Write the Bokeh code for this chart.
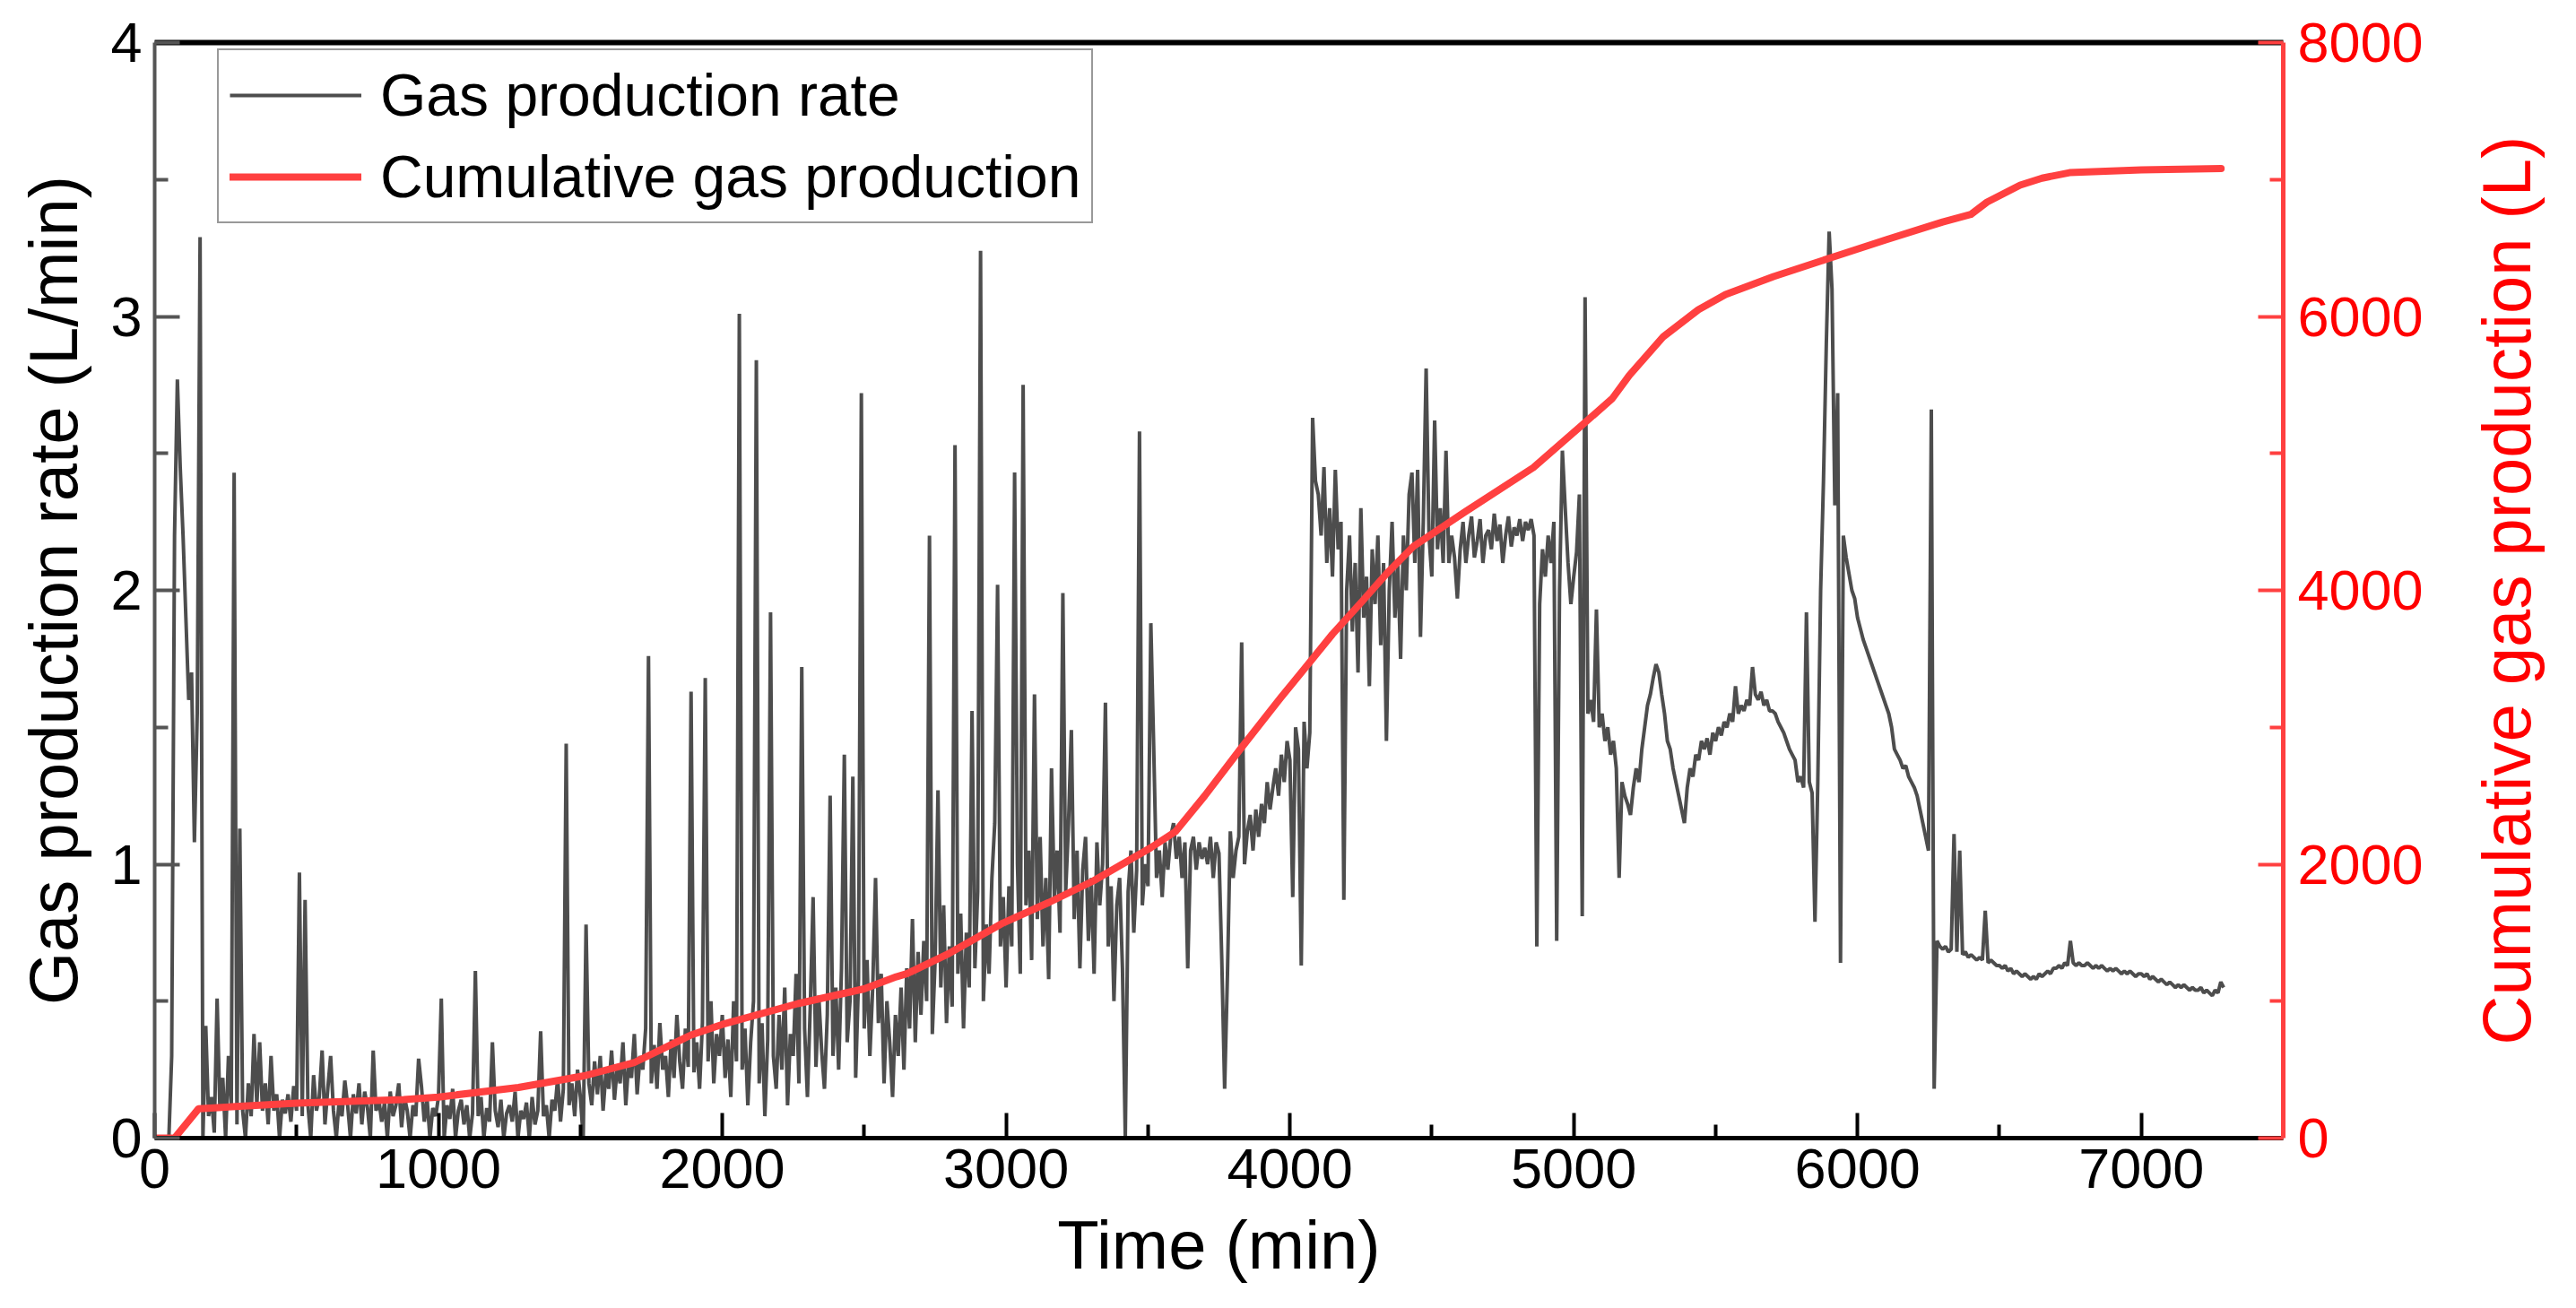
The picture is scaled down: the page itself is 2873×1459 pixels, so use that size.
import math
from bokeh.plotting import figure
from bokeh.models import Range1d, LinearAxis, FixedTicker, Legend, LegendItem, Label
from bokeh.embed import file_html
from bokeh.resources import INLINE

# ---------------- data ----------------
# gas production rate sampled every 10 min (L/min)
RATE_STEP_MIN = 10
RATE = [
    0, 0, 0, 0, 0, 0, 0.3, 2.2, 2.77, 2.45,
    2.2, 1.9, 1.6, 1.7, 1.08, 1.55, 3.29, 0.0, 0.41, 0.08,
    0.15, 0.02, 0.51, 0.1, 0.22, 0.0, 0.3, 0.12, 2.43, 0.05,
    1.13, 0.1, 0.0, 0.2, 0.08, 0.38, 0.12, 0.35, 0.1, 0.2,
    0.05, 0.3, 0.1, 0.16, 0.0, 0.14, 0.09, 0.16, 0.06, 0.19,
    0.1, 0.97, 0.08, 0.87, 0.12, 0.0, 0.23, 0.1, 0.15, 0.32,
    0.05, 0.18, 0.3, 0.1, 0.0, 0.14, 0.08, 0.21, 0.12, 0.0,
    0.16, 0.09, 0.2, 0.05, 0.17, 0.11, 0.0, 0.32, 0.1, 0.14,
    0.06, 0.13, 0.0, 0.17, 0.08, 0.12, 0.2, 0.04, 0.15, 0.1,
    0.0, 0.12, 0.08, 0.29, 0.19, 0.06, 0.14, 0.0, 0.11, 0.08,
    0.15, 0.51, 0.0, 0.12, 0.07, 0.18, 0.0, 0.1, 0.14, 0.05,
    0.12, 0.0, 0.09, 0.61, 0.08, 0.15, 0.0, 0.11, 0.06, 0.35,
    0.1, 0.04, 0.14, 0.0, 0.09, 0.12, 0.06, 0.17, 0.0, 0.1,
    0.07, 0.13, 0.0, 0.15, 0.05, 0.1, 0.39, 0.08, 0.12, 0.0,
    0.14, 0.1, 0.22, 0.06, 0.18, 1.44, 0.12, 0.2, 0.08, 0.25,
    0.15, 0.0, 0.78, 0.2, 0.12, 0.28, 0.16, 0.3, 0.1, 0.24,
    0.18, 0.32, 0.14, 0.26, 0.2, 0.35, 0.12, 0.28, 0.22, 0.38,
    0.16, 0.3, 0.25, 0.4, 1.76, 0.2, 0.34, 0.18, 0.42, 0.25,
    0.3, 0.15, 0.36, 0.22, 0.45, 0.28, 0.18, 0.4, 0.26, 1.63,
    0.24, 0.35, 0.18, 0.42, 1.68, 0.28, 0.5, 0.2, 0.38, 0.3,
    0.45, 0.22, 0.36, 0.15, 0.5, 0.28, 3.01, 0.25, 0.4, 0.12,
    0.35, 0.5, 2.84, 0.2, 0.42, 0.08, 0.36, 1.92, 0.3, 0.18,
    0.45, 0.25, 0.55, 0.12, 0.38, 0.3, 0.6, 0.2, 1.72, 0.4,
    0.15, 0.48, 0.88, 0.26, 0.52, 0.32, 0.18, 0.45, 1.25, 0.3,
    0.55, 0.25, 0.62, 1.4, 0.35, 0.5, 1.32, 0.22, 0.58, 2.72,
    0.4, 0.65, 0.3, 0.55, 0.95, 0.42, 0.6, 0.2, 0.5, 0.35,
    0.15, 0.45, 0.3, 0.55, 0.25, 0.62, 0.4, 0.8, 0.35, 0.68,
    0.45, 0.72, 0.5, 2.2, 0.38, 0.65, 1.27, 0.55, 0.85, 0.42,
    0.7, 0.48, 2.53, 0.6, 0.82, 0.4, 0.75, 0.55, 1.56, 0.62,
    0.9, 3.24, 0.5, 0.78, 0.6, 0.95, 1.15, 2.02, 0.7, 0.88,
    0.55, 0.92, 0.7, 2.43, 1.0, 0.6, 2.75, 0.85, 1.05, 0.65,
    1.62, 0.8, 1.1, 0.7, 0.95, 0.58, 1.35, 0.88, 1.05, 0.75,
    1.99, 0.9, 1.15, 1.49, 0.8, 1.05, 0.62, 0.98, 1.1, 0.72,
    0.95, 0.6, 1.08, 0.85, 1.0, 1.59, 0.7, 0.92, 0.5, 0.85,
    0.95, 0.62, 0.0, 0.9, 1.05, 0.75, 0.98, 2.58, 0.85, 1.0,
    0.92, 1.88, 1.43, 0.95, 1.05, 0.88, 1.08, 0.98, 1.1, 1.15,
    1.02, 1.1, 0.95, 1.08, 0.62, 1.05, 1.1, 0.98, 1.08, 1.02,
    1.06, 1.0, 1.1, 0.95, 1.08, 1.04, 0.65, 0.18, 0.6, 1.12,
    0.95, 1.05, 1.1, 1.81, 1.0, 1.12, 1.18, 1.05, 1.2, 1.1,
    1.22, 1.15, 1.3, 1.2, 1.28, 1.35, 1.25, 1.4, 1.3, 1.45,
    1.38, 0.88, 1.5, 1.42, 0.63, 1.52, 1.35, 1.48, 2.63, 2.4,
    2.35, 2.2, 2.45, 2.1, 2.3, 2.05, 2.44, 2.15, 2.25, 0.87,
    2.0, 2.2, 1.85, 2.1, 1.7, 2.3, 1.9, 2.05, 1.65, 2.15,
    1.95, 2.2, 1.8, 2.1, 1.45, 2.0, 2.25, 1.9, 2.1, 1.75,
    2.2, 2.0, 2.35, 2.43, 2.1, 2.44, 1.83, 2.25, 2.81, 2.2,
    2.05, 2.62, 2.15, 2.3, 2.1, 2.51, 2.1, 2.2, 2.12, 1.97,
    2.15, 2.25, 2.1, 2.2, 2.27, 2.12, 2.18, 2.26, 2.1, 2.2,
    2.22, 2.15, 2.28, 2.18, 2.24, 2.1, 2.2, 2.27, 2.16, 2.23,
    2.2, 2.26, 2.18, 2.25, 2.22, 2.26, 2.2, 0.7, 1.95, 2.15,
    2.05, 2.2, 2.1, 2.25, 0.72, 2.0, 2.51, 2.3, 2.1, 1.95,
    2.05, 2.14, 2.35, 0.81, 3.07, 1.55, 1.6, 1.52, 1.93, 1.5,
    1.55, 1.45, 1.5, 1.4, 1.45, 1.35, 0.95, 1.3, 1.25, 1.22,
    1.18, 1.28, 1.35, 1.3, 1.42, 1.5, 1.58, 1.62, 1.68, 1.73,
    1.7, 1.62, 1.55, 1.45, 1.42, 1.35, 1.3, 1.25, 1.2, 1.15,
    1.28, 1.35, 1.32, 1.4, 1.38, 1.45, 1.42, 1.46, 1.4, 1.48,
    1.45, 1.5, 1.47, 1.52, 1.5, 1.55, 1.52, 1.65, 1.55, 1.58,
    1.56, 1.6, 1.58, 1.72, 1.62, 1.6, 1.63, 1.58, 1.6, 1.56,
    1.56, 1.55, 1.52, 1.5, 1.48, 1.45, 1.42, 1.4, 1.38, 1.3,
    1.32, 1.28, 1.92, 1.3, 1.26, 0.79, 1.3, 2.0, 2.4, 2.9,
    3.31, 3.1, 2.31, 2.72, 0.64, 2.2, 2.12, 2.06, 2.0, 1.97,
    1.9, 1.86, 1.82, 1.79, 1.76, 1.73, 1.7, 1.67, 1.64, 1.61,
    1.58, 1.55, 1.5, 1.42, 1.4, 1.38, 1.35, 1.36, 1.32, 1.3,
    1.28, 1.25, 1.2, 1.15, 1.1, 1.05, 2.66, 0.18, 0.72, 0.70,
    0.69, 0.7, 0.68, 0.69, 1.11, 0.68, 1.05, 0.67, 0.68, 0.66,
    0.67, 0.66, 0.65, 0.66, 0.65, 0.83, 0.64, 0.65, 0.64, 0.63,
    0.63, 0.62, 0.63, 0.61, 0.62, 0.6, 0.61, 0.6, 0.59, 0.6,
    0.59, 0.58, 0.59, 0.58, 0.6, 0.59, 0.6, 0.61, 0.6, 0.62,
    0.62, 0.63, 0.62, 0.64, 0.63, 0.72, 0.64, 0.63, 0.64, 0.63,
    0.63, 0.64, 0.63, 0.62, 0.63, 0.62, 0.63, 0.62, 0.61, 0.62,
    0.61, 0.62, 0.61, 0.6, 0.61, 0.6, 0.61, 0.6, 0.59, 0.6,
    0.6, 0.59, 0.6, 0.58, 0.59, 0.58, 0.57, 0.58, 0.57, 0.56,
    0.57, 0.56, 0.55, 0.56, 0.55, 0.56, 0.55, 0.54, 0.55, 0.54,
    0.54, 0.55, 0.53, 0.54, 0.53, 0.52, 0.54, 0.53, 0.57, 0.55,
]
RATE_TIME = [i * RATE_STEP_MIN for i in range(len(RATE))]

# cumulative gas production (L)
CUM_TIME = [0, 70, 155, 500, 878, 1000, 1282, 1514, 1688, 1890, 2000, 2266,
            2500, 2613, 2650, 2800, 2989, 3150, 3308, 3510, 3597, 3700, 3828,
            3967, 4060, 4150, 4255, 4340, 4435, 4615, 4858, 5039, 5136, 5196,
            5316, 5439, 5535, 5704, 5906, 6100, 6300, 6399, 6456, 6573, 6650,
            6747, 7000, 7281]
CUM_L = [0, 0, 215, 255, 282, 300, 370, 455, 550, 753, 830, 982,
         1090, 1178, 1200, 1350, 1571, 1720, 1879, 2121, 2239, 2500, 2848,
         3214, 3450, 3680, 3921, 4120, 4321, 4570, 4897, 5224, 5401, 5571,
         5853, 6049, 6160, 6291, 6429, 6560, 6690, 6745, 6835, 6959, 7010,
         7050, 7070, 7080]

X_TICKS = [0, 1000, 2000, 3000, 4000, 5000, 6000, 7000]
X_MINOR = [500, 1500, 2500, 3500, 4500, 5500, 6500]
Y_TICKS = [0, 1, 2, 3, 4]
Y_MINOR = [0.5, 1.5, 2.5, 3.5]
Y2_TICKS = [0, 2000, 4000, 6000, 8000]
Y2_MINOR = [1000, 3000, 5000, 7000]

LABEL_LEGEND_RATE = "Gas production rate"
LABEL_LEGEND_CUM = "Cumulative gas production"
LABEL_X = "Time (min)"
LABEL_Y = "Gas production rate (L/min)"
LABEL_Y2 = "Cumulative gas production (L)"

# ---------------- styling ----------------
FONT = "Liberation Sans"
GRAY = "#4d4d4d"
RED_LINE = "#ff4040"
RED_TEXT = "#ff0000"

FIG_W, FIG_H = 2857, 1440
BORDER_L, BORDER_R, BORDER_T, BORDER_B = 172, 311, 47, 171
FRAME_W = FIG_W - BORDER_L - BORDER_R
FRAME_H = FIG_H - BORDER_T - BORDER_B

p = figure(width=FIG_W, height=FIG_H,
           x_range=Range1d(0, 7500), y_range=Range1d(0, 4),
           output_backend="svg", toolbar_location=None,
           min_border_left=BORDER_L, min_border_right=BORDER_R,
           min_border_top=BORDER_T, min_border_bottom=BORDER_B)
p.extra_y_ranges = {"cum": Range1d(0, 8000)}
p.xgrid.visible = False
p.ygrid.visible = False
p.outline_line_color = None
p.background_fill_color = "white"
p.border_fill_color = "white"

gray = p.line(RATE_TIME, RATE, line_color=GRAY, line_width=4)
red = p.line(CUM_TIME, CUM_L, line_color=RED_LINE, line_width=8,
             y_range_name="cum", line_cap="round", line_join="round")


def style_axis(ax, line_color, line_width, tick_color, label_color, standoff, label_standoff):
    ax.axis_line_color = line_color
    ax.axis_line_width = line_width
    ax.major_tick_line_color = tick_color
    ax.minor_tick_line_color = tick_color
    ax.major_tick_line_width = 4
    ax.minor_tick_line_width = 4
    ax.major_tick_in = 28
    ax.major_tick_out = 0
    ax.minor_tick_in = 15
    ax.minor_tick_out = 0
    ax.major_label_text_font = FONT
    ax.major_label_text_font_size = "63px"
    ax.major_label_text_color = label_color
    ax.major_label_standoff = standoff
    ax.axis_label_text_font = FONT
    ax.axis_label_text_font_size = "76px"
    ax.axis_label_text_font_style = "normal"
    ax.axis_label_text_color = label_color
    ax.axis_label_standoff = label_standoff


xax = p.xaxis[0]
xax.ticker = FixedTicker(ticks=X_TICKS, minor_ticks=X_MINOR)
xax.axis_label = LABEL_X
style_axis(xax, "black", 5, "black", "black", 12, 18)

yax = p.yaxis[0]
yax.ticker = FixedTicker(ticks=Y_TICKS, minor_ticks=Y_MINOR)
yax.axis_label = LABEL_Y
style_axis(yax, "#555555", 4, "#555555", "black", 14, 18)

rax = LinearAxis(y_range_name="cum",
                 ticker=FixedTicker(ticks=Y2_TICKS, minor_ticks=Y2_MINOR))
style_axis(rax, RED_LINE, 5, RED_LINE, RED_TEXT, 16, 40)
p.add_layout(rax, "right")

# right-hand axis title, reading bottom-to-top as in the reference
rlabel = Label(x=90, y=FRAME_H / 2, x_units="screen", y_units="screen",
               text=LABEL_Y2, angle=math.pi / 2, angle_units="rad",
               text_align="center", text_baseline="middle",
               text_font=FONT, text_font_size="76px", text_color=RED_TEXT)
p.add_layout(rlabel, "right")

tax = LinearAxis(ticker=FixedTicker(ticks=[]))
tax.axis_line_color = "black"
tax.axis_line_width = 6
tax.major_label_text_font_size = "0px"
tax.major_tick_in = 0
tax.major_tick_out = 0
tax.minor_tick_in = 0
tax.minor_tick_out = 0
p.add_layout(tax, "above")

legend = Legend(items=[LegendItem(label=LABEL_LEGEND_RATE, renderers=[gray]),
                       LegendItem(label=LABEL_LEGEND_CUM, renderers=[red])],
                location=(70, 1020))
legend.margin = 0
legend.padding = 12
legend.spacing = 15
legend.glyph_width = 147
legend.glyph_height = 70
legend.label_height = 70
legend.label_standoff = 21
legend.label_text_font = FONT
legend.label_text_font_size = "66px"
legend.label_text_color = "black"
legend.border_line_color = "#333333"
legend.border_line_width = 2.5
legend.background_fill_color = "white"
legend.background_fill_alpha = 1.0
p.add_layout(legend)

open("out.html", "w").write(file_html(p, INLINE))
